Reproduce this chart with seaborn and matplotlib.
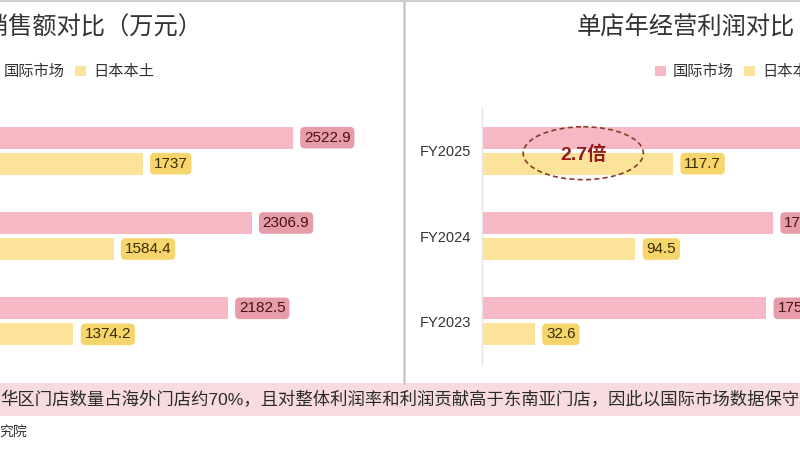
import matplotlib
matplotlib.use("Agg")
import matplotlib.pyplot as plt
from matplotlib.patches import Patch, Rectangle, Ellipse
from matplotlib.lines import Line2D
import seaborn as sns
import pandas as pd

# data
years = ["FY2025", "FY2024", "FY2023"]
markets = ["国际市场", "日本本土"]
sales_intl = [2522.9, 2306.9, 2182.5]
sales_japan = [1737, 1584.4, 1374.2]
profit_intl = [318.0, 179.3, 175.1]
profit_japan = [117.7, 94.5, 32.6]

title_left = "单店年销售额对比（万元）"
title_right = "单店年经营利润对比（万元）"
note = "华区门店数量占海外门店约70%，且对整体利润率和利润贡献高于东南亚门店，因此以国际市场数据保守"
source = "究院"

PINK = "#f5b8c4"
YELLOW = "#fce39a"
PINK_BOX = "#e79ca9"
YELLOW_BOX = "#f6d56c"

sns.set_theme(style="white")
plt.rcParams["font.family"] = ["Liberation Sans", "Noto Sans CJK SC", "DejaVu Sans"]

W, H = 800, 450
def fx(px):
    return px / W
def fy(py):
    return 1 - py / H


def long_df(intl, japan):
    rows = []
    for y, a, b in zip(years, intl, japan):
        rows.append({"year": y, "market": markets[0], "value": a})
        rows.append({"year": y, "market": markets[1], "value": b})
    return pd.DataFrame(rows)


fig = plt.figure(figsize=(8, 4.5), dpi=100)
fig.patch.set_facecolor("white")

# bottom note strip + frame lines
fig.add_artist(Rectangle((0, fy(416)), 1, 33 / H, transform=fig.transFigure,
                         facecolor="#f7dbe0", edgecolor="none", zorder=0))
fig.add_artist(Line2D([0, 1], [fy(1), fy(1)], transform=fig.transFigure, color="#cfcfcf", lw=1.5))
fig.add_artist(Line2D([fx(404), fx(404)], [fy(0), fy(383)], transform=fig.transFigure, color="#c9c9c9", lw=1.8))

# left panel sits mostly off the left edge, right panel off the right edge
ax_l = fig.add_axes([fx(-189), fy(364), 573 / W, 256 / H])
ax_r = fig.add_axes([fx(482), fy(364), 552 / W, 256 / H])

panels = [
    (ax_l, long_df(sales_intl, sales_japan), 3000),
    (ax_r, long_df(profit_intl, profit_japan), 340),
]

for ax, df, xmax in panels:
    sns.barplot(data=df, x="value", y="year", hue="market", hue_order=markets,
                palette=[PINK, YELLOW], orient="h", width=0.61, gap=0.15,
                saturation=1, linewidth=0, legend=False, ax=ax)
    ax.set_xlim(0, xmax)
    ax.set_ylim(2.5, -0.5)
    ax.set_xticks([])
    ax.set_xlabel("")
    ax.set_ylabel("")
    ax.set_facecolor("none")
    ax.tick_params(axis="y", length=0, pad=8, labelsize=10.5, labelcolor="#333333")
    for s in ["top", "right", "bottom"]:
        ax.spines[s].set_visible(False)
    ax.spines["left"].set_color("#e4e4e4")
    ax.spines["left"].set_linewidth(1)

    # value labels in rounded boxes
    for cont, box, tc in zip(ax.containers, [PINK_BOX, YELLOW_BOX], ["#4a1018", "#3a2a00"]):
        for bar in cont:
            v = bar.get_width()
            ax.annotate(f"{v:g}", xy=(v, bar.get_y() + bar.get_height() / 2),
                        xytext=(8, 0), textcoords="offset points",
                        ha="left", va="center", fontsize=11, color=tc,
                        bbox=dict(boxstyle="round,pad=0.25,rounding_size=0.3", fc=box, ec="none"),
                        annotation_clip=False)

# the left panel's year labels fall outside the crop
ax_l.tick_params(axis="y", labelleft=False)

# 2.7x callout on the profit chart
ratio = profit_intl[0] / profit_japan[0]
cx = profit_japan[0] * 0.53
ax_r.add_patch(Ellipse((cx, 0.03), 74, 0.62, facecolor="none", edgecolor="#8a3b2b",
                       linestyle=(0, (3, 2)), lw=1.2, zorder=5))
ax_r.text(cx, 0.05, f"{ratio:.1f}倍", ha="center", va="center", fontsize=14,
          fontweight="bold", color="#981b1b", zorder=6)

# titles and legends
fig.text(fx(203), fy(28), title_left, ha="right", va="center", fontsize=17.5,
         fontweight="medium", color="#333333")
fig.text(fx(577), fy(28), title_right, ha="left", va="center", fontsize=17.5,
         fontweight="medium", color="#333333")

handles = [Patch(facecolor=PINK, edgecolor="none"), Patch(facecolor=YELLOW, edgecolor="none")]
for x0 in [-14, 655]:
    leg = fig.legend(handles, markets, loc="center left", bbox_to_anchor=(fx(x0), fy(72)),
                     ncol=2, frameon=False, fontsize=11, handlelength=0.7, handleheight=0.7,
                     handletextpad=0.45, columnspacing=0.7, borderpad=0, borderaxespad=0)
    for t in leg.get_texts():
        t.set_color("#333333")

fig.text(fx(0), fy(400), note, ha="left", va="center", fontsize=12.5, color="#2a2a2a")
fig.text(fx(-1), fy(432), source, ha="left", va="center", fontsize=10, color="#333333")

fig.savefig("out.png", dpi=100)
